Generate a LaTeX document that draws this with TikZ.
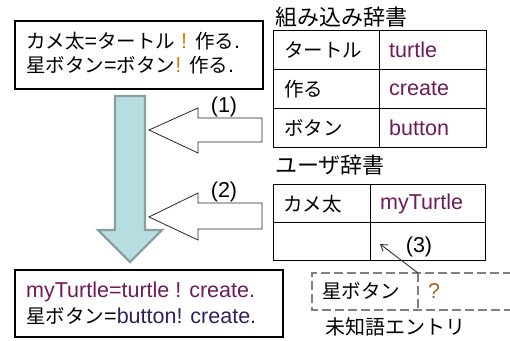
\documentclass[tikz,border=0pt]{standalone}
\usepackage{fontspec}
\setmainfont{Liberation Sans}
\newfontfamily\jp{Noto Sans CJK JP}
\usetikzlibrary{arrows.meta}
\definecolor{engcol}{RGB}{112,26,90}
\definecolor{engcolb}{RGB}{48,32,96}
\definecolor{bangcol}{RGB}{208,128,0}
\definecolor{qcol}{RGB}{176,96,32}
\definecolor{arrfill}{RGB}{183,221,225}
\definecolor{arrline}{RGB}{140,158,160}
\definecolor{dashcol}{RGB}{128,128,128}
\newcommand\jtext[1]{{\fontsize{19.5}{24}\selectfont\jp #1}}
\tikzset{
  bigbox/.style={draw=black, line width=2.2pt, anchor=north west, inner sep=0pt},
  txt/.style={font=\fontsize{21.5}{24}\selectfont, inner sep=0pt, anchor=west},
  ttl/.style={font=\fontsize{22}{24}\selectfont\jp, inner sep=0pt, anchor=west},
  cell/.style={draw=black, line width=1.3pt, anchor=north west, inner sep=0pt},
  celltxt/.style={font=\fontsize{21.5}{24}\selectfont, inner sep=0pt, anchor=west},
  jcelltxt/.style={font=\fontsize{19.5}{24}\selectfont\jp, inner sep=0pt, anchor=west},
  blockarrow/.style={draw=black!85, line width=0.8pt, fill=white},
  bigarrow/.style={draw=arrline, line width=2.2pt, fill=arrfill},
  unkline/.style={draw=dashcol, line width=1.8pt, dash pattern=on 9pt off 4pt},
  num/.style={font=\fontsize{21.5}{24}\selectfont, inner sep=0pt},
}
\begin{document}
\begin{tikzpicture}[x=1pt,y=-1pt]
\useasboundingbox (0,0) rectangle (510,340);
% top-left source box
\node[bigbox, minimum width=248pt, minimum height=68pt] (src) at (14,20) {};
\node[txt] (src1) at (26,41) {\jtext{カメ太}=\jtext{タートル} \textcolor{bangcol}{!} \jtext{作る}.};
\node[txt] (src2) at (26,65) {\jtext{星ボタン}=\jtext{ボタン}\textcolor{bangcol}{!} \jtext{作る}.};
% big vertical arrow
\draw[bigarrow] (115,96) -- (145,96) -- (145,230) -- (162,230) -- (130,262) -- (98,230) -- (115,230) -- cycle;
% block arrows (1) and (2)
\draw[blockarrow] (262,118) -- (198,118) -- (198,108) -- (149,130) -- (198,153) -- (198,142) -- (262,142) -- cycle;
\node[num] (n1) at (224,107) {(1)};
\draw[blockarrow] (262,203) -- (198,203) -- (198,193) -- (149,217) -- (198,240) -- (198,229) -- (262,229) -- cycle;
\node[num] (n2) at (224,192) {(2)};
% built-in dictionary
\node[ttl] (t1title) at (275,17) {組み込み辞書};
\node[cell, minimum width=106pt, minimum height=39pt] (a11) at (273,30) {};
\node[cell, minimum width=107pt, minimum height=39pt] (a12) at (379,30) {};
\node[cell, minimum width=106pt, minimum height=39pt] (a21) at (273,69) {};
\node[cell, minimum width=107pt, minimum height=39pt] (a22) at (379,69) {};
\node[cell, minimum width=106pt, minimum height=39pt] (a31) at (273,108) {};
\node[cell, minimum width=107pt, minimum height=39pt] (a32) at (379,108) {};
\node[jcelltxt] at ([xshift=11pt]a11.west) {タートル};
\node[celltxt, text=engcol] at ([xshift=10pt]a12.west) {turtle};
\node[jcelltxt] at ([xshift=11pt]a21.west) {作る};
\node[celltxt, text=engcol] at ([xshift=10pt]a22.west) {create};
\node[jcelltxt] at ([xshift=11pt]a31.west) {ボタン};
\node[celltxt, text=engcol] at ([xshift=10pt]a32.west) {button};
% user dictionary
\node[ttl] (t2title) at (275,165) {ユーザ辞書};
\node[cell, minimum width=97pt, minimum height=38pt] (b11) at (273,184) {};
\node[cell, minimum width=115pt, minimum height=38pt] (b12) at (370,184) {};
\node[cell, minimum width=97pt, minimum height=38pt] (b21) at (273,222) {};
\node[cell, minimum width=115pt, minimum height=38pt] (b22) at (370,222) {};
\node[jcelltxt] at ([xshift=10pt]b11.west) {カメ太};
\node[celltxt, text=engcol] at ([xshift=10pt]b12.west) {myTurtle};
% unknown-word entry (dashed, open to the right)
\coordinate (u1) at (312,273);
\coordinate (u2) at (312,310);
\coordinate (u3) at (418,273);
\coordinate (u4) at (418,310);
\coordinate (u5) at (512,273);
\coordinate (u6) at (512,310);
\draw[unkline] (u5) -- (u1) -- (u2) -- (u6);
\draw[unkline] (u3) -- (u4);
\node[jcelltxt] (unk) at (322,291) {星ボタン};
\node[celltxt, text=qcol] (q) at (428,291) {?};
\node[ttl, font=\fontsize{20}{24}\selectfont\jp, anchor=center] (unktitle) at (395,327) {未知語エントリ};
% arrow (3)
\coordinate (a3s) at (u3);
\coordinate (a3e) at (380,244);
\draw[black!80, line width=0.9pt, -{Straight Barb[length=6pt,width=8pt]}] (a3s) -- (a3e);
\node[num] (n3) at (419,247) {(3)};
% result box
\node[bigbox, minimum width=268pt, minimum height=67pt] (res) at (14,269) {};
\node[txt, text=engcol] (res1) at (26,292) {myTurtle=turtle ! create.};
\node[txt] (res2) at (26,316) {\jtext{星ボタン}=\textcolor{engcolb}{button! create.}};
\end{tikzpicture}
\end{document}
